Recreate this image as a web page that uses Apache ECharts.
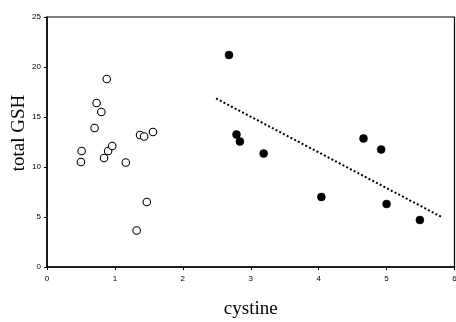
<!DOCTYPE html>
<html>
<head>
<meta charset="utf-8">
<script src="https://cdn.jsdelivr.net/npm/echarts@6/dist/echarts.min.js"></script>
<style>html,body{margin:0;padding:0;background:#fff}#c{width:456px;height:322px}</style>
</head>
<body>
<div id="c"></div>
<script>
// Open circles (group 1)
const openX = [0.50, 0.51, 0.70, 0.73, 0.80, 0.88, 0.84, 0.90, 0.96, 1.16, 1.32, 1.37, 1.43, 1.47, 1.56];
const openY = [10.5, 11.6, 13.9, 16.4, 15.5, 18.8, 10.9, 11.6, 12.1, 10.45, 3.65, 13.2, 13.05, 6.5, 13.5];
// Filled circles (group 2)
const filledX = [2.68, 2.79, 2.84, 3.19, 4.04, 4.66, 4.92, 5.00, 5.49];
const filledY = [21.2, 13.25, 12.55, 11.35, 7.0, 12.85, 11.75, 6.3, 4.7];
// Trend line endpoints
const trendX = [2.49, 5.81];
const trendY = [16.85, 5.0];
const xTicks = [0, 1, 2, 3, 4, 5, 6];
const yTicks = [0, 5, 10, 15, 20, 25];
const xTitle = 'cystine';
const yTitle = 'total GSH';

const zip = (a, b) => a.map((v, i) => [v, b[i]]);

const chart = echarts.init(document.getElementById('c'), null, {renderer: 'canvas'});
chart.setOption({
  animation: false,
  backgroundColor: '#fff',
  grid: {left: 47, top: 17, right: 1.5, bottom: 55, show: true, borderColor: '#000', borderWidth: 1.2,
    containLabel: false, outerBoundsMode: 'none'},
  graphic: [{
    type: 'text', x: 19, y: 133, rotation: Math.PI / 2,
    style: {text: yTitle, font: '19px "Liberation Serif"', fill: '#000', align: 'center', verticalAlign: 'middle'}
  }],
  xAxis: {
    type: 'value', min: 0, max: 6, interval: 1,
    name: xTitle, nameLocation: 'middle', nameGap: 33,
    nameTextStyle: {fontFamily: 'Liberation Serif', fontSize: 19, color: '#000'},
    axisLine: {show: true, onZero: false, lineStyle: {color: '#000', width: 1.5}},
    axisTick: {show: true, length: 3, lineStyle: {color: '#000', width: 1}},
    axisLabel: {fontFamily: 'Liberation Sans', fontSize: 8, color: '#000', margin: 8,
      formatter: v => xTicks.includes(v) ? String(v) : ''},
    splitLine: {show: false}
  },
  yAxis: {
    type: 'value', min: 0, max: 25, interval: 5,
    axisLine: {show: true, onZero: false, lineStyle: {color: '#000', width: 1.5}},
    axisTick: {show: true, length: 3, lineStyle: {color: '#000', width: 1}},
    axisLabel: {fontFamily: 'Liberation Sans', fontSize: 8, color: '#000', margin: 6,
      formatter: v => yTicks.includes(v) ? String(v) : ''},
    splitLine: {show: false}
  },
  series: [
    {
      type: 'line', data: zip(trendX, trendY), symbol: 'none', silent: true,
      lineStyle: {color: '#000', width: 2, type: [2, 2.2], cap: 'butt', opacity: 1}
    },
    {
      type: 'scatter', data: zip(openX, openY), symbol: 'circle', symbolSize: 7.5,
      itemStyle: {color: '#fff', borderColor: '#000', borderWidth: 1.1, opacity: 1}
    },
    {
      type: 'scatter', data: zip(filledX, filledY), symbol: 'circle', symbolSize: 8,
      itemStyle: {color: '#000', borderColor: '#000', borderWidth: 0.5, opacity: 1}
    }
  ]
});
</script>
</body>
</html>
